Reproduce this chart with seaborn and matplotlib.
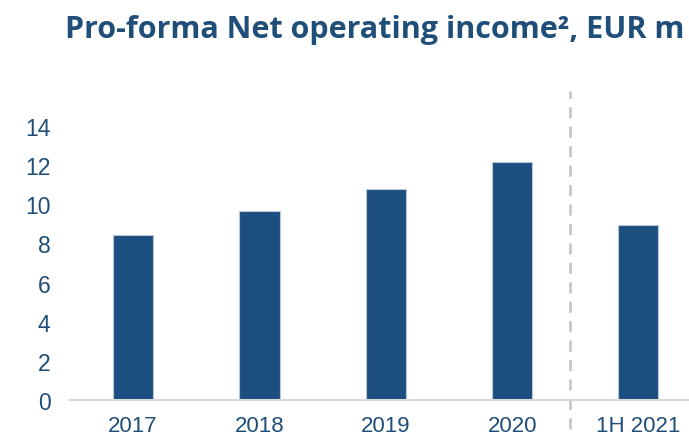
import matplotlib
matplotlib.use("Agg")
import matplotlib.pyplot as plt
import seaborn as sns
import pandas as pd

categories = ["2017", "2018", "2019", "2020", "1H 2021"]
values = [8.45, 9.65, 10.8, 12.15, 8.95]
yticks = [0, 2, 4, 6, 8, 10, 12, 14]

sns.set_theme(style="white")
plt.rcParams['font.family'] = ['Liberation Sans', 'DejaVu Sans']

BLUE = "#1C4F80"
TEXT = "#1F4E79"

df = pd.DataFrame({"cat": categories, "val": values})

fig = plt.figure(figsize=(6.89, 4.39), dpi=100)
ax = fig.add_axes([70/689, 38/439, 1 - 70/689, (401 - 92)/439])

sns.barplot(data=df, x="cat", y="val", color=BLUE, width=0.317, saturation=1,
            edgecolor="#B8C7D9", linewidth=0.8, ax=ax)

ax.set_xlim(-0.5, 4.4)
ymax = (401 - 92) / 19.57
ax.set_ylim(0, ymax)
ax.set_yticks(yticks)
ax.set_xlabel("")
ax.set_ylabel("")

for s in ["top", "right", "left"]:
    ax.spines[s].set_visible(False)
ax.spines["bottom"].set_color("#D9D9D9")
ax.spines["bottom"].set_linewidth(1.5)

ax.tick_params(axis="y", length=0, pad=14, labelsize=16.5, labelcolor=TEXT)
ax.tick_params(axis="x", length=0, pad=11, labelsize=16, labelcolor=TEXT)

ax.axvline(3.46, ymin=-29/19.57/ymax, ymax=1, color="#C8C8C8", linestyle=(0, (4, 3)),
           linewidth=2, clip_on=False)

fig.text(0.993, 1 - 37.7/439, "Pro-forma Net operating income², EUR m", ha="right", va="baseline",
         fontsize=22, fontweight="bold", color=TEXT, family=["Open Sans", "DejaVu Sans"])

fig.savefig("out.png", dpi=100)
